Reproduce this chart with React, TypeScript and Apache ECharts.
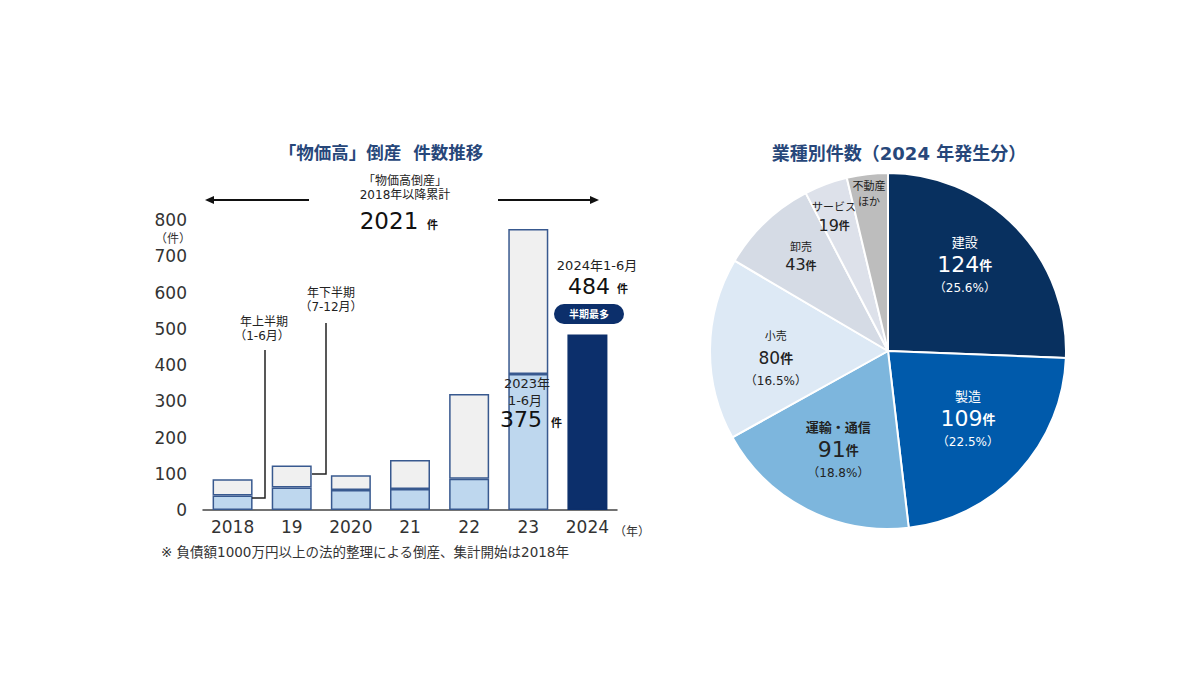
import React, { useEffect, useRef } from "react";
import * as echarts from "echarts";

const years = ["2018", "19", "2020", "21", "22", "23", "2024"];
const firstHalf = [40, 62, 55, 58, 86, 375, 484];
const secondHalf = [45, 61, 41, 80, 234, 400, null];
const yTicks = [0, 100, 200, 300, 400, 500, 600, 700, 800];

const industries = ["建設", "製造", "運輸・通信", "小売", "卸売", "サービス", "不動産ほか"];
const industryCounts = [124, 109, 91, 80, 43, 19, 18];
const showPercent = [true, true, true, true, false, false, false];

const CJK = "'Noto Sans CJK JP', sans-serif";
const FONT = "'DejaVu Sans', 'Noto Sans CJK JP', sans-serif";
const NAVY = "#0c2f6b";
const TITLE = "#27477a";
const BORDER = "#38598f";
const pieColors = ["#08305f", "#005aab", "#7db6dd", "#dde9f5", "#d5dbe5", "#dde1ea", "#bdbdbd"];
const pieText = ["#ffffff", "#ffffff", "#222", "#222", "#222", "#222", "#222"];
const labelRadius = [0.6, 0.58, 0.61, 0.63, 0.72, 0.82, 0.87];
const labelNudge = [[0, -12], [4, -2], [0, 2], [0, 8], [1, -1], [-3, 3], [-1, -4]];
const PIE_C = [888, 351];
const PIE_R = 178;

export default function App() {
  const ref = useRef<HTMLDivElement>(null);
  useEffect(() => {
    const chart = echarts.init(ref.current!, null, { renderer: "svg" });
    const total = industryCounts.reduce((a, b) => a + b, 0);

    const pieData = industries.map((name, i) => {
      const small = i >= 3;
      const tiny = i >= 4;
      const pct = ((industryCounts[i] / total) * 100).toFixed(1);
      let fmt: string;
      if (i === 6) fmt = "{n|不動産}\n{n|ほか}";
      else
        fmt =
          `{n|${name}}\n{v|${industryCounts[i]}}{u|件}` + (showPercent[i] ? `\n{p|（${pct}%）}` : "");
      const c = pieText[i];
      return {
        name,
        value: industryCounts[i],
        itemStyle: { color: pieColors[i] },
        label: {
          formatter: fmt,
          color: c,
          rich: {
            n: { fontSize: tiny ? 11 : small ? 11 : 13, color: c, fontFamily: CJK, lineHeight: tiny ? 16 : 20, fontWeight: i === 2 ? "bold" : "normal" },
            v: { fontSize: tiny ? 16 : small ? 17 : 22, color: c, fontFamily: FONT, lineHeight: tiny ? 22 : 26 },
            u: { fontSize: tiny ? 11 : 13, color: c, fontFamily: CJK, fontWeight: "bold" },
            p: { fontSize: 12, color: c, fontFamily: FONT, lineHeight: 20 },
          },
        },
      };
    });

    const yLabelFmt = (v: number) => (yTicks.includes(v) ? String(v) : "");
    const t = (x: number, y: number, text: string, font: string, fill = "#222", align = "center") => ({
      type: "text", x, y, z: 100, style: { text, font, fill, align },
    });

    chart.setOption({
      animation: false,
      textStyle: { fontFamily: FONT },
      title: [
        { text: "「物価高」倒産  件数推移", left: 376, top: 139, textAlign: "center", textStyle: { fontSize: 17.5, fontWeight: "bold", color: TITLE, fontFamily: FONT } },
        { text: "業種別件数（2024 年発生分）", left: 894, top: 139, textAlign: "center", textStyle: { fontSize: 18, fontWeight: "bold", color: TITLE, fontFamily: FONT } },
      ],
      grid: { left: 203, right: 583, top: 220, bottom: 165, containLabel: false },
      xAxis: {
        type: "category",
        data: years,
        axisTick: { show: false },
        axisLine: { lineStyle: { color: "#444", width: 1.5 } },
        axisLabel: { fontSize: 17, color: "#333", fontFamily: FONT, margin: 8 },
      },
      yAxis: {
        type: "value",
        min: 0,
        max: 800,
        interval: 100,
        splitLine: { show: false },
        axisLine: { show: false },
        axisTick: { show: false },
        axisLabel: { fontSize: 17, color: "#333", fontFamily: FONT, margin: 16, formatter: yLabelFmt },
      },
      series: [
        {
          type: "bar",
          stack: "total",
          barWidth: 40,
          data: firstHalf.map((v, i) =>
            i === years.length - 1
              ? { value: v, itemStyle: { color: NAVY, borderColor: NAVY } }
              : v
          ),
          itemStyle: { color: "#bed7ee", borderColor: BORDER, borderWidth: 1.5 },
        },
        {
          type: "bar",
          stack: "total",
          barWidth: 40,
          data: secondHalf,
          itemStyle: { color: "#f0f0f0", borderColor: BORDER, borderWidth: 1.5 },
        },
        {
          type: "pie",
          center: PIE_C,
          radius: PIE_R,
          startAngle: 90,
          clockwise: true,
          itemStyle: { borderColor: "#ffffff", borderWidth: 2 },
          label: { show: true, position: "inside", fontFamily: FONT },
          labelLine: { show: false },
          labelLayout: (p: any) => {
            const r = p.labelRect;
            const lx = r.x + r.width / 2;
            const ly = r.y + r.height / 2;
            const a = Math.atan2(ly - PIE_C[1], lx - PIE_C[0]);
            const d = labelRadius[p.dataIndex] * PIE_R;
            const n = labelNudge[p.dataIndex];
            return { x: PIE_C[0] + d * Math.cos(a) + n[0], y: PIE_C[1] + d * Math.sin(a) + n[1] };
          },
          data: pieData,
        },
      ],
      graphic: [
        t(173, 231, "（件）", `12px ${CJK}`, "#333"),
        t(632, 524, "（年）", `12px ${CJK}`, "#333"),
        t(161, 545, "※ 負債額1000万円以上の法的整理による倒産、集計開始は2018年", `13.5px ${FONT}`, "#333", "left"),
        // top cumulative annotation
        t(405, 173, "「物価高倒産」", `12px ${CJK}`),
        t(405, 189, "2018年以降累計", `12px ${FONT}`),
        t(389, 209, "2021", `23px ${FONT}`, "#111"),
        t(427, 218, "件", `bold 11px ${CJK}`, "#111", "left"),
        { type: "line", z: 100, shape: { x1: 309, y1: 200, x2: 212, y2: 200 }, style: { stroke: "#111", lineWidth: 2 } },
        { type: "polygon", z: 100, shape: { points: [[205, 200], [214, 196], [214, 204]] }, style: { fill: "#111" } },
        { type: "line", z: 100, shape: { x1: 498, y1: 200, x2: 591, y2: 200 }, style: { stroke: "#111", lineWidth: 2 } },
        { type: "polygon", z: 100, shape: { points: [[599, 200], [590, 196], [590, 204]] }, style: { fill: "#111" } },
        // half-year callouts
        t(264, 314, "年上半期", `12px ${CJK}`),
        t(262, 330, "（1-6月）", `12px ${FONT}`),
        { type: "polyline", z: 100, shape: { points: [[265, 350], [265, 498], [252, 498]] }, style: { stroke: "#222", lineWidth: 1.5, fill: null } },
        t(331, 285, "年下半期", `12px ${CJK}`),
        t(331, 301, "（7-12月）", `12px ${FONT}`),
        { type: "polyline", z: 100, shape: { points: [[326, 323], [326, 474], [312, 474]] }, style: { stroke: "#222", lineWidth: 1.5, fill: null } },
        // 2023 label
        t(527, 377, "2023年", `13px ${FONT}`),
        t(525, 394, "1-6月", `13px ${FONT}`),
        t(521, 408, "375", `22px ${FONT}`, "#111"),
        t(551, 416, "件", `bold 11px ${CJK}`, "#111", "left"),
        // 2024 label
        t(597, 259, "2024年1-6月", `13px ${FONT}`),
        t(589, 275, "484", `22px ${FONT}`, "#111"),
        t(617, 282, "件", `bold 11px ${CJK}`, "#111", "left"),
        { type: "rect", z: 100, shape: { x: 554, y: 304, width: 70, height: 20, r: 10 }, style: { fill: NAVY } },
        t(589, 308, "半期最多", `bold 10px ${CJK}`, "#fff"),
      ],
    });
    return () => chart.dispose();
  }, []);
  return <div ref={ref} style={{ width: 1200, height: 675, margin: -8 }} />;
}
